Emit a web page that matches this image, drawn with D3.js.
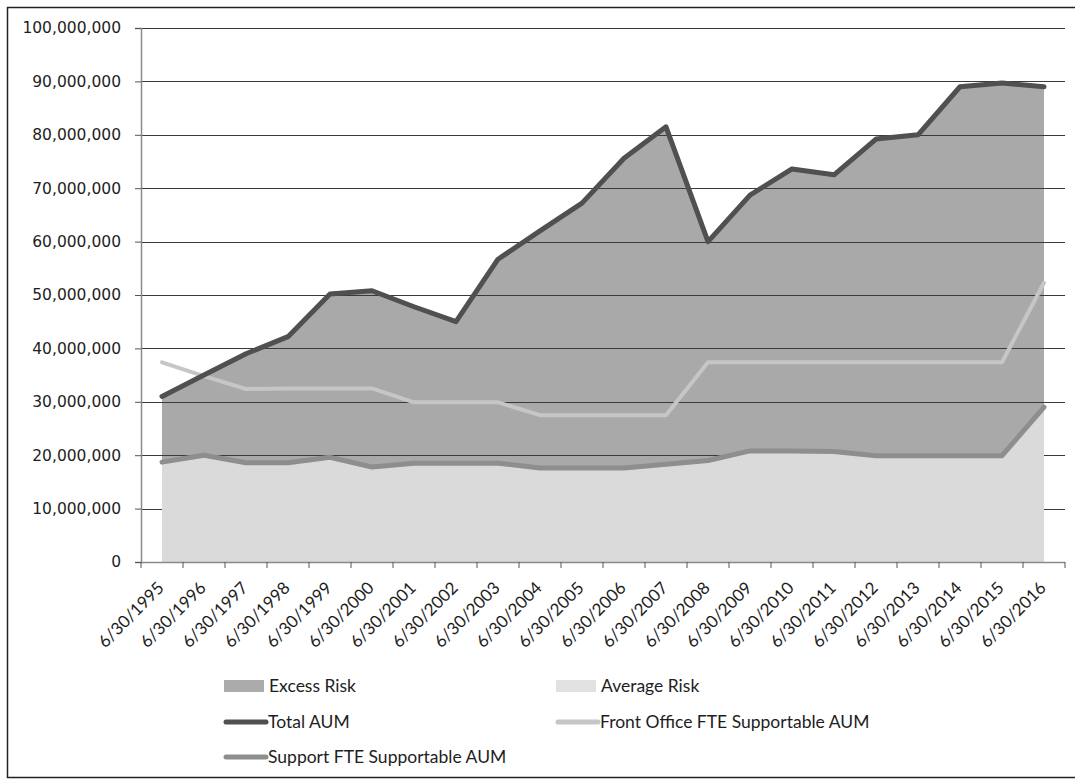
<!DOCTYPE html>
<html>
<head>
<meta charset="utf-8">
<script src="https://cdn.jsdelivr.net/npm/d3@7"></script>
<style>
  body { margin: 0; background: #fff; }
  svg { display: block; }
</style>
</head>
<body>
<svg width="1075" height="780"></svg>
<script>
const years = ['6/30/1995','6/30/1996','6/30/1997','6/30/1998','6/30/1999','6/30/2000','6/30/2001','6/30/2002',
  '6/30/2003','6/30/2004','6/30/2005','6/30/2006','6/30/2007','6/30/2008','6/30/2009','6/30/2010','6/30/2011',
  '6/30/2012','6/30/2013','6/30/2014','6/30/2015','6/30/2016'];

// values in dollars
const totalAUM = [31.0, 35.0, 39.0, 42.2, 50.2, 50.8, 47.8, 45.0, 56.7, 62.0, 67.2, 75.6, 81.5, 60.0,
  68.7, 73.6, 72.5, 79.2, 80.0, 89.0, 89.7, 89.0].map(v => v * 1e6);
const frontOfficeAUM = [37.4, 34.8, 32.4, 32.5, 32.5, 32.5, 29.9, 29.9, 29.9, 27.5, 27.5, 27.5, 27.5, 37.4,
  37.4, 37.4, 37.4, 37.4, 37.4, 37.4, 37.4, 52.3].map(v => v * 1e6);
const supportAUM = [18.7, 20.0, 18.6, 18.6, 19.6, 17.8, 18.5, 18.5, 18.5, 17.6, 17.6, 17.6, 18.3, 19.0,
  20.8, 20.8, 20.7, 19.9, 19.9, 19.9, 19.9, 29.0].map(v => v * 1e6);
// stacked areas: average risk is the support level, excess risk goes up to total AUM
const averageRisk = supportAUM;
const yTicks = [0, 1e7, 2e7, 3e7, 4e7, 5e7, 6e7, 7e7, 8e7, 9e7, 1e8];

const svg = d3.select('svg');

const x = d3.scaleBand().domain(years).range([141, 1065]).padding(0);
const y = d3.scaleLinear().domain([0, 1e8]).range([562, 28]);
const cx = d => x(d) + x.bandwidth() / 2;

// outer frame
svg.append('rect')
  .attr('x', 7.5).attr('y', 7.5).attr('width', 1072).attr('height', 770)
  .attr('fill', 'none').attr('stroke', '#222').attr('stroke-width', 1.5);

const rows = years.map((d, i) => ({ d, total: totalAUM[i], front: frontOfficeAUM[i], support: supportAUM[i], avg: averageRisk[i] }));

// excess risk area (drawn from base, covered below by average risk)
svg.append('path')
  .datum(rows)
  .attr('fill', '#a9a9a9')
  .attr('d', d3.area().x(r => cx(r.d)).y0(y(0)).y1(r => y(r.total)));

// gridlines
svg.append('g')
  .selectAll('line')
  .data(yTicks.slice(1))
  .join('line')
  .attr('x1', 141).attr('x2', 1065)
  .attr('y1', d => Math.round(y(d)) + 0.5).attr('y2', d => Math.round(y(d)) + 0.5)
  .attr('stroke', '#3a3a3a').attr('stroke-width', 1.2);

// average risk area
svg.append('path')
  .datum(rows)
  .attr('fill', '#dadada')
  .attr('d', d3.area().x(r => cx(r.d)).y0(y(0)).y1(r => y(r.avg)));

// y axis
const yAxis = svg.append('g')
  .attr('transform', 'translate(141,0)')
  .call(d3.axisLeft(y).tickValues(yTicks).tickFormat(d3.format(',')).tickSize(6).tickPadding(14));
yAxis.select('.domain').attr('stroke', '#8a8a8a').attr('stroke-width', 1.5);
yAxis.selectAll('.tick line').attr('stroke', '#555');
yAxis.selectAll('.tick text')
  .attr('fill', '#1e1e1e')
  .style('font-family', 'DejaVu Sans, Verdana, sans-serif')
  .style('font-size', '15.5px');

// x axis
const xAxis = svg.append('g').attr('transform', 'translate(0,562)');
xAxis.append('line')
  .attr('x1', 141).attr('x2', 1065).attr('y1', 0.5).attr('y2', 0.5)
  .attr('stroke', '#8a8a8a').attr('stroke-width', 1.5);
xAxis.selectAll('.tk')
  .data(years.concat(['end']))
  .join('line')
  .attr('class', 'tk')
  .attr('x1', (d, i) => i < years.length ? x(d) : x.range()[1])
  .attr('x2', (d, i) => i < years.length ? x(d) : x.range()[1])
  .attr('y1', 0).attr('y2', 6)
  .attr('stroke', '#555');
xAxis.selectAll('text')
  .data(years)
  .join('text')
  .attr('transform', d => `translate(${cx(d) + 3},27) rotate(-45)`)
  .attr('text-anchor', 'end')
  .attr('fill', '#1e1e1e')
  .style('font-family', 'Lato, sans-serif')
  .style('font-size', '17px')
  .text(d => d);

// lines
const lineSeries = [
  { key: 'support', color: '#8e8e8e', width: 5 },
  { key: 'front', color: '#c6c6c6', width: 4 },
  { key: 'total', color: '#505050', width: 5 }
];
lineSeries.forEach(s => {
  svg.append('path')
    .datum(rows)
    .attr('fill', 'none')
    .attr('stroke', s.color)
    .attr('stroke-width', s.width)
    .attr('stroke-linejoin', 'round')
    .attr('stroke-linecap', 'round')
    .attr('d', d3.line().x(r => cx(r.d)).y(r => y(r[s.key])));
});

// legend
const legendItems = [
  { name: 'Excess Risk', type: 'rect', color: '#ababab', lx: 224, ly: 686 },
  { name: 'Average Risk', type: 'rect', color: '#e2e2e2', lx: 556, ly: 686 },
  { name: 'Total AUM', type: 'line', color: '#505050', lx: 224, ly: 722 },
  { name: 'Front Office FTE Supportable AUM', type: 'line', color: '#c6c6c6', lx: 556, ly: 722 },
  { name: 'Support FTE Supportable AUM', type: 'line', color: '#8e8e8e', lx: 224, ly: 757 }
];
const lg = svg.append('g')
  .selectAll('g')
  .data(legendItems)
  .join('g')
  .attr('transform', d => `translate(${d.lx},${d.ly})`);
lg.filter(d => d.type === 'rect').append('rect')
  .attr('x', 0).attr('y', -6).attr('width', 40).attr('height', 12)
  .attr('fill', d => d.color);
lg.filter(d => d.type === 'line').append('line')
  .attr('x1', 2).attr('x2', 42).attr('y1', 0).attr('y2', 0)
  .attr('stroke', d => d.color).attr('stroke-width', 5).attr('stroke-linecap', 'round');
lg.append('text')
  .attr('x', d => d.type === 'rect' ? 45 : 44)
  .attr('y', 6)
  .attr('fill', '#1e1e1e')
  .style('font-family', 'Lato, sans-serif')
  .style('font-size', '17.5px')
  .text(d => d.name);
</script>
</body>
</html>
